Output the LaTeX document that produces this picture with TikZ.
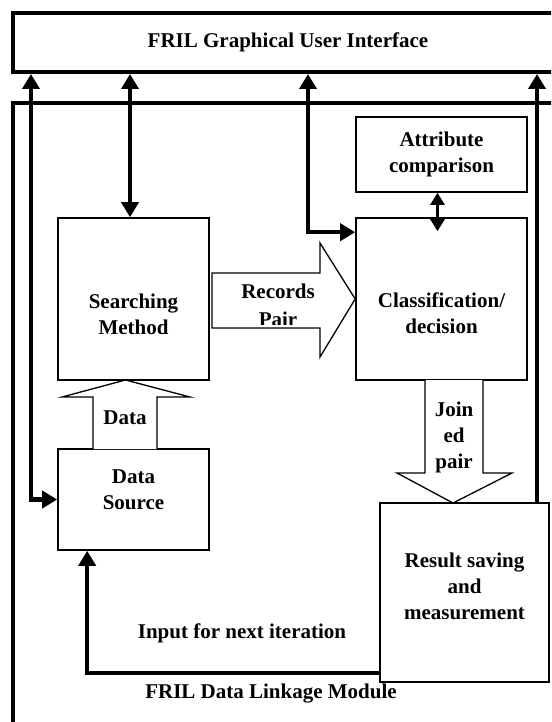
\documentclass[tikz,border=0pt]{standalone}
\usepackage{fontspec}
\setmainfont{Liberation Serif}
\usetikzlibrary{arrows.meta, positioning, calc}

\begin{document}
\begin{tikzpicture}[x=1pt, y=-1pt,
            box/.style={draw, line width=1.6pt, rectangle, inner sep=0pt},
            lbl/.style={font=\fontsize{21}{26}\selectfont\bfseries, align=center, inner sep=0pt},
            frame/.style={draw, line width=4.5pt, rectangle},
            link/.style={line width=4.5pt, {Triangle[length=15pt,width=17pt]}-{Triangle[length=15pt,width=17pt]}},
            uplink/.style={line width=4.5pt, -{Triangle[length=15pt,width=17pt]}},
            flow/.style={draw, line width=1.3pt, fill=white}
        ]
            \useasboundingbox (0,0) rectangle (551,722);
            \clip (0,0) rectangle (551,722);

            % frames
            \node[frame, minimum width=550pt, minimum height=59pt] (gui) at (288,42.5) {};
            \node[lbl] (guitxt) at (gui) {FRIL Graphical User Interface};
            \node[frame, minimum width=550pt, minimum height=660pt] (mod) at (288,433) {};
            \node[lbl] (modtxt) at (271,694) {FRIL Data Linkage Module};

            % boxes
            \node[box, minimum width=151pt, minimum height=162pt] (sm) at (133.5,299) {};
            \node[lbl, yshift=-15pt] (smtxt) at (sm) {Searching\\Method};
            \node[box, minimum width=151pt, minimum height=101pt] (ds) at (133.5,499.5) {};
            \node[lbl, yshift=10pt] (dstxt) at (ds) {Data\\Source};
            \node[box, lbl, minimum width=171pt, minimum height=75pt] (ac) at (441.5,154.5) {Attribute\\comparison};
            \node[box, minimum width=171pt, minimum height=162pt] (cd) at (441.5,299) {};
            \node[lbl, yshift=-14pt] (cdtxt) at (cd) {Classification/\\decision};
            \node[box, minimum width=169pt, minimum height=179pt] (rs) at (464.5,592.5) {};
            \node[lbl, yshift=6pt] (rstxt) at (rs) {Result saving\\and\\measurement};

            % block arrows
            \draw[flow] (212,273) -- (320,273) -- (320,243) -- (cd.west) -- (320,357) -- (320,328) -- (212,328) -- cycle;
            \node[lbl, anchor=base] (rectxt) at (278,298) {Records};
            \begin{scope}
                \clip (212,274) rectangle (320,324);
                \node[lbl, anchor=base] (pairtxt) at (278,326) {Pair};
            \end{scope}
            \draw[flow] (93,449) -- (93,397) -- (62,397) -- (125.5,380) -- (190,397) -- (157,397) -- (157,449);
            \node[lbl] (datatxt) at (125,418) {Data};
            \draw[flow] (425,380) -- (425,473) -- (397,473) -- (453,503) -- (512,473) -- (483,473) -- (483,380);
            \node[lbl] (jointxt) at (454,437) {Join\\ed\\pair};

            % links to the interface
            \coordinate (g1) at (31,74);
            \coordinate (g2) at (130,74);
            \coordinate (g3) at (308,74);
            \coordinate (g4) at (537,74);
            \draw[link] (ds.west) -| (g1);
            \draw[link] (sm.north -| g2) -- (g2);
            \draw[link] ($(cd.north west)+(0,15)$) -| (g3);
            \draw[uplink] (rs.north -| g4) -- (g4);
            \draw[line width=2.5pt, {Triangle[length=12pt,width=14pt]}-{Triangle[length=12pt,width=14pt]}] ($(ac.south)+(-4,0)$) -- ($(cd.north)+(-4,14)$);

            % feedback
            \draw[uplink] ($(rs.south west)+(0,-10)$) -| ($(ds.south west)+(30,0)$);
            \node[lbl] (nexttxt) at (242,633) {Input for next iteration};
        \end{tikzpicture}
\end{document}
